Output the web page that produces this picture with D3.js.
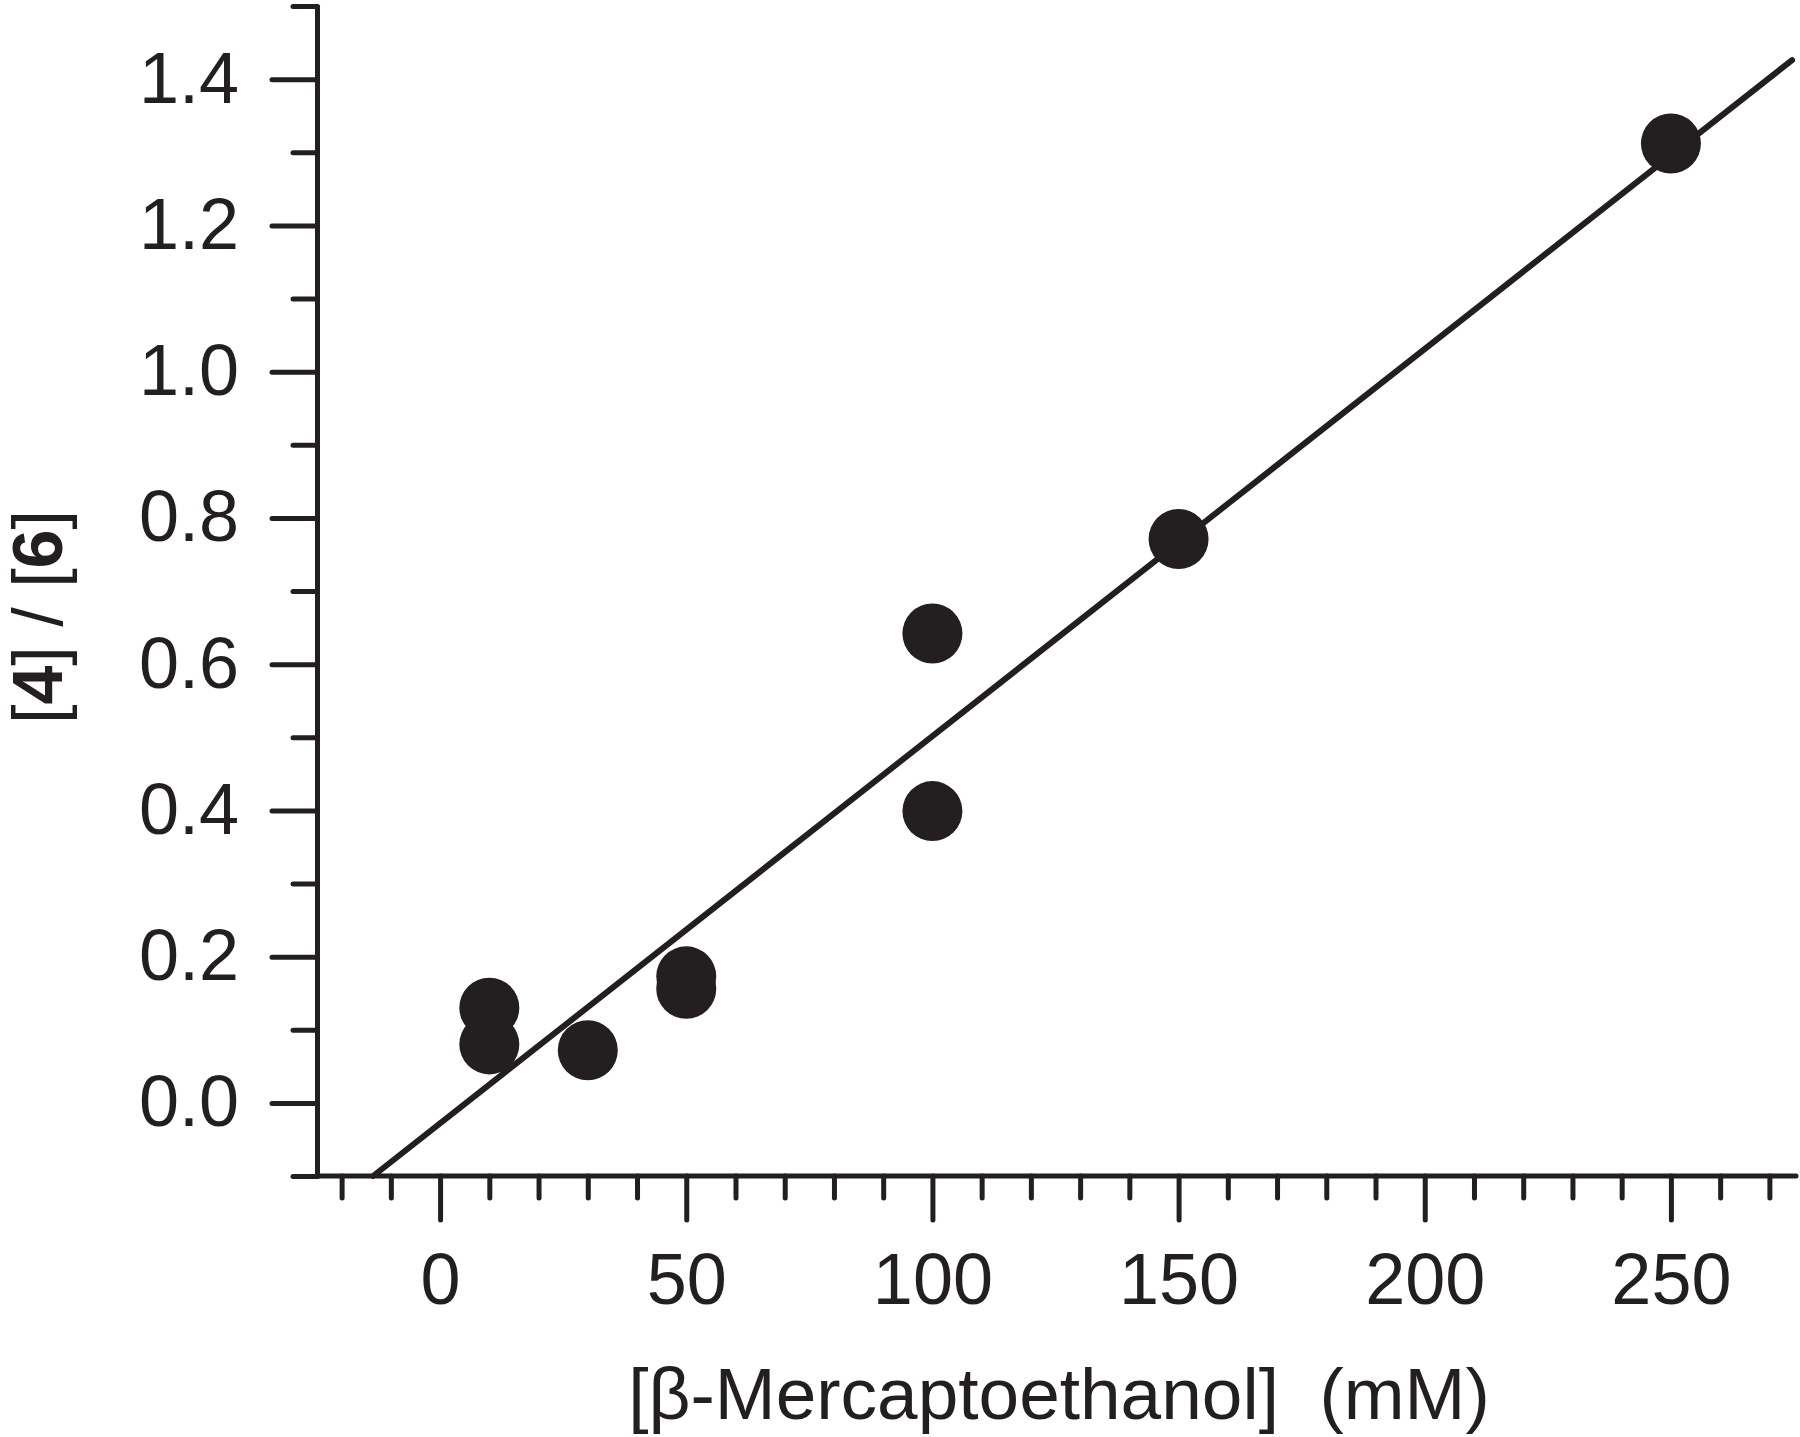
<!DOCTYPE html>
<html>
<head>
<meta charset="utf-8">
<script src="https://cdn.jsdelivr.net/npm/d3@7"></script>
<style>
  html, body { margin: 0; padding: 0; background: #fff; }
  svg { display: block; }
  text { font-family: "Liberation Sans", Arial, Helvetica, sans-serif; fill: #231f20; }
</style>
</head>
<body>
<svg id="chart" width="1800" height="1437"></svg>
<script>
// ---- data ----
const concentration = [10, 10, 30, 50, 50, 100, 100, 150, 250];
const ratio = [0.130, 0.080, 0.072, 0.173, 0.156, 0.642, 0.399, 0.771, 1.312];
const fitLineX = [-13.6, 274.6];
const fitLineY = [-0.1, 1.426];
const xMajorTicks = [0, 50, 100, 150, 200, 250];
const xMinorTicks = [-20, -10, 10, 20, 30, 40, 60, 70, 80, 90, 110, 120, 130, 140, 160, 170, 180, 190, 210, 220, 230, 240, 260, 270];
const yMajorTicks = [0.0, 0.2, 0.4, 0.6, 0.8, 1.0, 1.2, 1.4];
const yMinorTicks = [-0.1, 0.1, 0.3, 0.5, 0.7, 0.9, 1.1, 1.3, 1.5];
const xTitle = "[\u03B2-Mercaptoethanol]  (mM)";

const ink = "#231f20";
const svg = d3.select("#chart");

const x = d3.scaleLinear().domain([-25, 275]).range([317, 1794]);
const y = d3.scaleLinear().domain([-0.1, 1.5]).range([1176, 6]);

function styleAxis(g) {
  g.selectAll("path.domain").attr("stroke", ink).attr("stroke-width", 5).attr("stroke-linecap", "round");
  g.selectAll(".tick line").attr("stroke", ink).attr("stroke-width", 5).attr("stroke-linecap", "round");
  g.selectAll(".tick text").attr("fill", ink).style("font-size", "72px")
    .style("font-family", '"Liberation Sans", Arial, sans-serif');
}

// x axis minor
svg.append("g").attr("transform", `translate(0,${y(-0.1)})`)
  .call(d3.axisBottom(x).tickValues(xMinorTicks).tickSize(22).tickSizeOuter(0).tickFormat(""))
  .call(styleAxis)
  .call(g => g.select("path.domain").attr("d", `M${x(-25)},0H${x(275) + 2}`));
// x axis major
svg.append("g").attr("transform", `translate(0,${y(-0.1)})`)
  .call(d3.axisBottom(x).tickValues(xMajorTicks).tickSize(44).tickPadding(33).tickFormat(d3.format("d")))
  .call(styleAxis)
  .call(g => g.select("path.domain").remove());

// y axis minor
svg.append("g").attr("transform", `translate(${x(-25)},0)`)
  .call(d3.axisLeft(y).tickValues(yMinorTicks).tickSize(24).tickSizeOuter(0).tickFormat(""))
  .call(styleAxis);
// y axis major
svg.append("g").attr("transform", `translate(${x(-25)},0)`)
  .call(d3.axisLeft(y).tickValues(yMajorTicks).tickSize(45).tickPadding(33).tickFormat(d3.format(".1f")))
  .call(styleAxis)
  .call(g => g.select("path.domain").remove());

// fit line
const lineData = fitLineX.map((v, i) => ({ x: v, y: fitLineY[i] }));
svg.append("path")
  .datum(lineData)
  .attr("fill", "none")
  .attr("stroke", ink)
  .attr("stroke-width", 6)
  .attr("stroke-linecap", "round")
  .attr("d", d3.line().x(d => x(d.x)).y(d => y(d.y)));

// points
const pts = concentration.map((c, i) => ({ x: c, y: ratio[i] }));
svg.append("g").selectAll("circle").data(pts).join("circle")
  .attr("cx", d => x(d.x))
  .attr("cy", d => y(d.y))
  .attr("r", 30)
  .attr("fill", ink);

// x title
svg.append("text")
  .attr("x", 1059).attr("y", 1419)
  .attr("text-anchor", "middle")
  .attr("xml:space", "preserve")
  .style("white-space", "pre")
  .style("font-size", "73px")
  .text(xTitle);

// y title
const yt = svg.append("text")
  .attr("transform", "translate(62,617) rotate(-90)")
  .attr("text-anchor", "middle")
  .style("font-size", "70px");
yt.append("tspan").text("[");
yt.append("tspan").attr("font-weight", "bold").text("4");
yt.append("tspan").text("] / [");
yt.append("tspan").attr("font-weight", "bold").text("6");
yt.append("tspan").text("]");
</script>
</body>
</html>
